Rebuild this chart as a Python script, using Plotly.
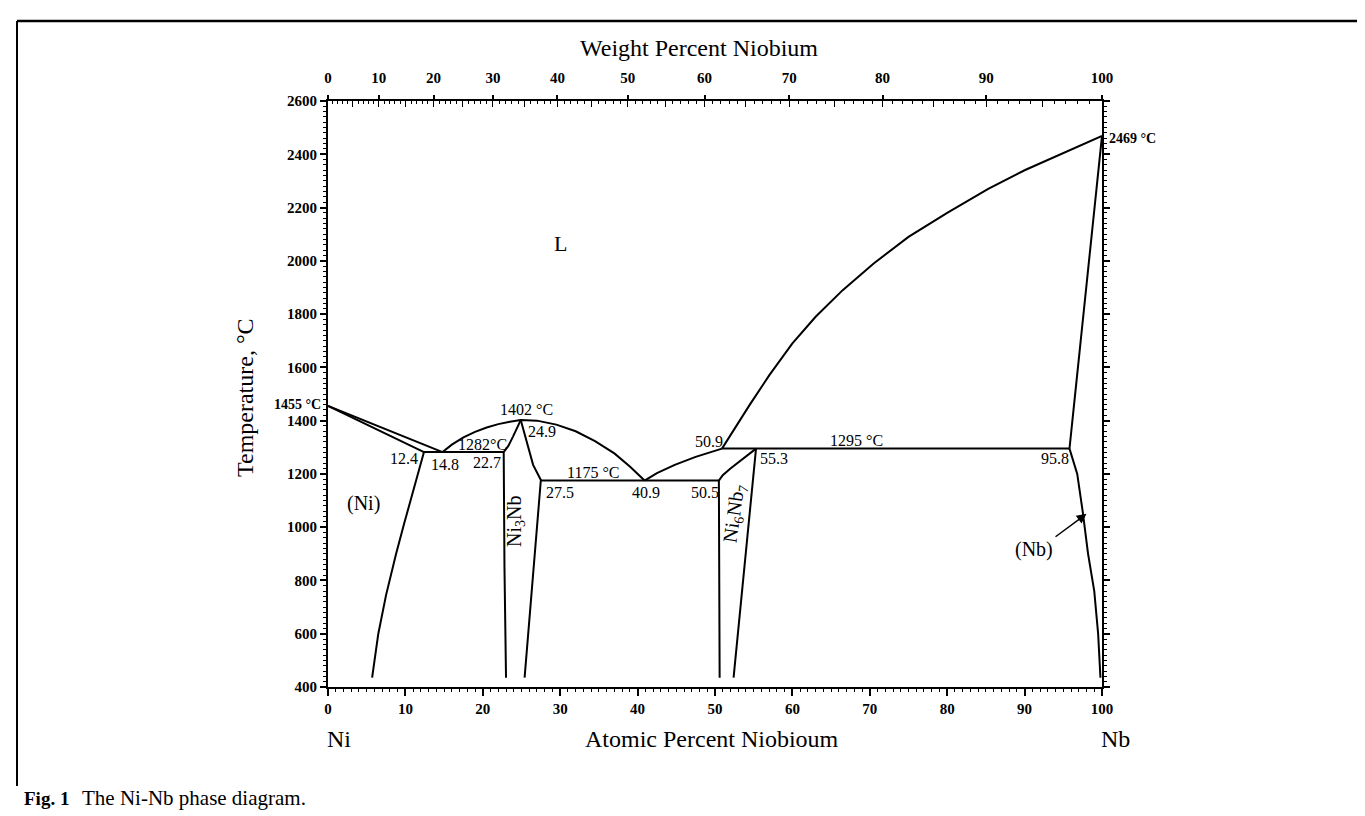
import plotly.graph_objects as go

# ---------------- data (atomic % Nb, temperature °C) ----------------
liq_ni_x = [0, 14.8]
liq_ni_t = [1455, 1282]
sol_ni_x = [0, 12.4]
sol_ni_t = [1455, 1282]
solv_ni_x = [12.4, 11.1, 9.9, 8.8, 7.5, 6.5, 5.7]
solv_ni_t = [1282, 1150, 1020, 900, 745, 600, 435]

eut1_x = [12.4, 22.7]
eut1_t = [1282, 1282]

dome_x = [14.8, 16.0, 17.5, 19.0, 20.5, 22.0, 23.5, 24.9, 27.0, 29.5, 32.0, 34.5, 37.0, 39.0, 40.9]
dome_t = [1282, 1310, 1337, 1358, 1374, 1387, 1396, 1402, 1400, 1385, 1360, 1323, 1277, 1228, 1175]

ni3nb_left_x = [23.0, 22.8, 22.7, 23.3, 23.9, 24.4, 24.9]
ni3nb_left_t = [435, 850, 1282, 1305, 1340, 1372, 1402]
ni3nb_right_x = [24.9, 25.3, 25.8, 26.5, 27.5, 25.4]
ni3nb_right_t = [1402, 1360, 1309, 1234, 1177, 435]

eut2_x = [27.5, 50.5]
eut2_t = [1175, 1175]

liq_mid_x = [40.9, 42.5, 44.8, 47.5, 50.9]
liq_mid_t = [1175, 1203, 1234, 1264, 1295]

peri_x = [50.9, 95.8]
peri_t = [1295, 1295]

ni6nb7_left_x = [50.6, 50.5, 51.0, 52.0, 55.3]
ni6nb7_left_t = [435, 1175, 1195, 1220, 1295]
ni6nb7_right_x = [55.3, 52.4]
ni6nb7_right_t = [1295, 435]

liq_nb_x = [50.9, 52.5, 54.5, 57.0, 60.0, 63.0, 66.5, 70.5, 75.0, 80.0, 85.3, 90.0, 95.0, 100]
liq_nb_t = [1295, 1370, 1460, 1570, 1690, 1790, 1890, 1990, 2090, 2180, 2270, 2340, 2405, 2469]

sol_nb_x = [100, 95.8]
sol_nb_t = [2469, 1295]
solv_nb_x = [95.8, 96.8, 97.5, 98.2, 99.0, 99.5, 99.8]
solv_nb_t = [1295, 1200, 1060, 900, 760, 600, 435]

curves = [
    (liq_ni_x, liq_ni_t), (sol_ni_x, sol_ni_t), (solv_ni_x, solv_ni_t),
    (eut1_x, eut1_t), (dome_x, dome_t), (ni3nb_left_x, ni3nb_left_t),
    (ni3nb_right_x, ni3nb_right_t), (eut2_x, eut2_t), (liq_mid_x, liq_mid_t),
    (peri_x, peri_t), (ni6nb7_left_x, ni6nb7_left_t), (ni6nb7_right_x, ni6nb7_right_t),
    (liq_nb_x, liq_nb_t), (sol_nb_x, sol_nb_t), (solv_nb_x, solv_nb_t),
]

# point labels: (text, x, T)
point_labels = [
    ("1402 °C", 25.6, 1440), ("24.9", 27.6, 1358), ("1282°C", 20.0, 1311),
    ("12.4", 9.8, 1256), ("14.8", 15.1, 1237), ("22.7", 20.6, 1241),
    ("27.5", 30.0, 1132), ("1175 °C", 34.2, 1206), ("40.9", 41.1, 1132),
    ("50.5", 48.7, 1132), ("50.9", 49.2, 1322), ("55.3", 57.6, 1256),
    ("1295 °C", 68.3, 1325), ("95.8", 93.9, 1256),
]

# axes
at_ticks = list(range(0, 101, 10))
t_ticks = list(range(400, 2601, 200))
wt_ticks = list(range(0, 101, 10))
wt_minor = [w for w in range(1, 100) if w % 5 != 0]
wt_inner = [w for w in range(0, 101, 5)]

M_NI, M_NB = 58.693, 92.906


def wt_to_at(w):
    if w >= 100:
        return 100.0
    n_nb = w / M_NB
    n_ni = (100 - w) / M_NI
    return 100 * n_nb / (n_nb + n_ni)


FONT = "Liberation Serif"
L, R, T, B = 320, 271, 93, 137
W, H = 1365, 816
PW, PH = W - L - R, H - T - B


def px(x):
    return (x - L) / PW


def py(y):
    return (H - B - y) / PH


fig = go.Figure()
for cx, ct in curves:
    fig.add_trace(go.Scatter(x=cx, y=ct, mode="lines",
                             line=dict(color="black", width=2),
                             hoverinfo="skip", showlegend=False))
# invisible traces so the top axes are drawn
fig.add_trace(go.Scatter(x=[0, 100], y=[400, 400], xaxis="x2", mode="lines",
                         line=dict(width=0), showlegend=False, hoverinfo="skip"))
fig.add_trace(go.Scatter(x=[0, 100], y=[400, 400], xaxis="x3", mode="lines",
                         line=dict(width=0), showlegend=False, hoverinfo="skip"))

tickfont = dict(family=FONT, size=15, color="black", weight="bold")

fig.update_layout(
    width=W, height=H,
    margin=dict(l=L, r=R, t=T, b=B),
    paper_bgcolor="white", plot_bgcolor="white",
    showlegend=False,
    xaxis=dict(range=[0, 100], tickvals=at_ticks, ticks="outside", ticklen=7,
               tickwidth=1.5, tickcolor="black",
               minor=dict(dtick=1, ticks="outside", ticklen=3, tickcolor="black", tickwidth=1),
               showline=True, linewidth=2, linecolor="black", mirror=True,
               showgrid=False, zeroline=False, tickfont=tickfont),
    xaxis2=dict(range=[0, 100], overlaying="x", side="top", anchor="y",
                tickmode="array", tickvals=[wt_to_at(w) for w in wt_ticks],
                ticktext=[str(w) for w in wt_ticks],
                ticks="outside", ticklen=5, tickwidth=1.5, tickcolor="black",
                ticklabelstandoff=6,
                minor=dict(tickmode="array", tickvals=[wt_to_at(w) for w in wt_minor],
                           ticks="inside", ticklen=3, tickcolor="black", tickwidth=1),
                showline=False, showgrid=False, zeroline=False, tickfont=tickfont),
    xaxis3=dict(range=[0, 100], overlaying="x", side="top", anchor="y",
                tickmode="array", tickvals=[wt_to_at(w) for w in wt_inner],
                ticks="inside", ticklen=6, tickwidth=1.3, tickcolor="black",
                showticklabels=False, showline=False, showgrid=False, zeroline=False),
    yaxis=dict(range=[400, 2600], tickvals=t_ticks, ticks="outside", ticklen=6,
               tickwidth=1.5, tickcolor="black",
               minor=dict(dtick=20, ticks="outside", ticklen=3, tickcolor="black", tickwidth=1),
               showline=True, linewidth=2, linecolor="black", mirror="ticks",
               showgrid=False, zeroline=False, tickfont=tickfont),
)

ann = []
for text, x, t in point_labels:
    ann.append(dict(x=x, y=t, xref="x", yref="y", text=text, showarrow=False,
                    font=dict(family=FONT, size=16, color="black")))


def note(x, y, text, size, **kw):
    d = dict(x=px(x), y=py(y), xref="paper", yref="paper", text=text, showarrow=False,
             xanchor="center", yanchor="middle",
             font=dict(family=FONT, size=size, color="black"))
    d.update(kw)
    return d


ann += [
    dict(x=0, y=1459, xref="x", yref="y", text="<b>1455 °C</b>", showarrow=False,
         xanchor="right", yanchor="middle", xshift=-5,
         font=dict(family=FONT, size=14, color="black")),
    dict(x=100, y=2461, xref="x", yref="y", text="<b>2469 °C</b>", showarrow=False,
         xanchor="left", yanchor="middle", xshift=5,
         font=dict(family=FONT, size=14, color="black")),
    dict(x=30.0, y=2065, xref="x", yref="y", text="L", showarrow=False,
         font=dict(family=FONT, size=22, color="black")),
    dict(x=4.6, y=1090, xref="x", yref="y", text="(Ni)", showarrow=False,
         font=dict(family=FONT, size=20, color="black")),
    dict(x=24.3, y=1020, xref="x", yref="y", text="Ni<sub>3</sub>Nb", showarrow=False,
         textangle=-90, font=dict(family=FONT, size=20, color="black")),
    dict(x=52.6, y=1050, xref="x", yref="y", text="Ni<sub>6</sub>Nb<sub>7</sub>", showarrow=False,
         textangle=-82, font=dict(family=FONT, size=20, color="black")),
    dict(x=91.2, y=918, xref="x", yref="y", text="(Nb)", showarrow=False,
         font=dict(family=FONT, size=20, color="black")),
    dict(x=98.0, y=1050, xref="x", yref="y", ax=93.8, ay=960, axref="x", ayref="y",
         text="", showarrow=True, arrowhead=2, arrowsize=1.3, arrowwidth=1.5,
         arrowcolor="black"),
    # axis titles and caption
    note(691, 40, "Weight Percent Niobium", 24),
    note(704, 731, "Atomic Percent Niobioum", 24),
    note(331, 731, "Ni", 24),
    note(1107, 731, "Nb", 24),
    note(237, 390, "Temperature, °C", 24, textangle=-90),
    note(14, 790, "<b>Fig. 1</b>", 19, xanchor="left"),
    note(72, 790, "The Ni-Nb phase diagram.", 21, xanchor="left"),
]
fig.update_layout(annotations=ann)

fig.update_layout(shapes=[
    dict(type="line", xref="paper", yref="paper", x0=px(9), y0=py(13), x1=px(1365), y1=py(13),
         line=dict(color="black", width=2.5)),
    dict(type="line", xref="paper", yref="paper", x0=px(9), y0=py(13), x1=px(9), y1=py(778),
         line=dict(color="black", width=2)),
])

fig.write_html("out.html")
